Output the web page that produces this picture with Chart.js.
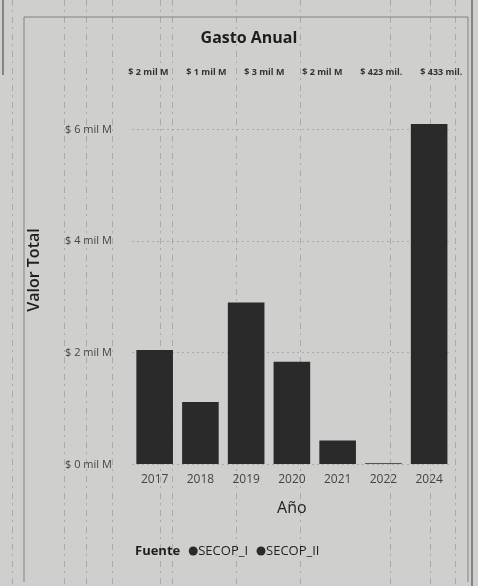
<!DOCTYPE html>
<html>
<head>
<meta charset="utf-8">
<script src="https://cdn.jsdelivr.net/npm/chart.js@4.4.0/dist/chart.umd.min.js"></script>
<style>
  html, body { margin: 0; padding: 0; background: #cfd0cd; }
  #wrap { width: 478px; height: 586px; position: relative; }
</style>
</head>
<body>
<div id="wrap"><canvas id="myChart" width="478" height="586"></canvas></div>
<script>
// values in "mil M" (thousands of millions)
const years = ['2017', '2018', '2019', '2020', '2021', '2022', '2024'];
const secopI = [0, 0, 0, 0, 0, 0, 0];
const secopII = [2.05, 1.12, 2.9, 1.84, 0.43, 0.02, 6.1];
const yTicks = [0, 2, 4, 6];
const topLabels = ['$ 2 mil M', '$ 1 mil M', '$ 3 mil M', '$ 2 mil M', '$ 423 mil.', '$ 433 mil.'];

const ink = '#2a2a2a';
const paper = '#cfd0cd';

// photocopy look: paper, frame and streaks
const paperPlugin = {
  id: 'paper',
  beforeDraw(chart) {
    const c = chart.ctx;
    const w = chart.width, h = chart.height;
    c.save();
    c.fillStyle = paper;
    c.fillRect(0, 0, w, h);
    c.strokeStyle = 'rgba(70,70,70,0.55)';
    c.lineWidth = 1;
    c.beginPath();
    c.moveTo(24, h - 4); c.lineTo(24, 17); c.lineTo(w - 10, 17); c.lineTo(w - 10, h - 4);
    c.stroke();
    c.strokeStyle = 'rgba(20,20,20,0.8)';
    c.beginPath();
    c.moveTo(3, 0); c.lineTo(3, 75);
    c.moveTo(w - 6, 0); c.lineTo(w - 6, h);
    c.stroke();
    c.strokeStyle = 'rgba(60,60,60,0.25)';
    c.setLineDash([6, 4, 2, 5]);
    [12, 64, 86, 112, 160, 172, 236, 300, 390, 430, 455].forEach(function (x) {
      c.beginPath();
      c.moveTo(x + 0.5, 0);
      c.lineTo(x + 0.5, h);
      c.stroke();
    });
    c.restore();
  }
};

const labelsPlugin = {
  id: 'extras',
  afterDraw(chart) {
    const c = chart.ctx;
    const meta = chart.getDatasetMeta(1);
    c.save();
    c.textBaseline = 'middle';
    // title
    c.fillStyle = '#1e1e1e';
    c.font = 'bold 16px "Open Sans"';
    c.textAlign = 'center';
    c.fillText('Gasto Anual', 249, 38);
    // y axis title
    c.save();
    c.translate(34, 270);
    c.rotate(-Math.PI / 2);
    c.font = '600 16px "Open Sans"';
    c.fillText('Valor Total', 0, 0);
    c.restore();
    // total labels, flowing left to right across the bars
    c.font = 'bold 9px "Open Sans"';
    c.fillStyle = '#333';
    c.textAlign = 'left';
    const first = meta.data[0];
    const last = meta.data[meta.data.length - 1];
    const start = first.x - first.width / 2 - 8;
    const end = last.x + last.width / 2 + 15;
    const widths = topLabels.map(t => c.measureText(t).width);
    const total = widths.reduce((a, b) => a + b, 0);
    const gap = (end - start - total) / (topLabels.length - 1);
    let px = start;
    topLabels.forEach(function (t, i) {
      c.fillText(t, px, 72);
      px += widths[i] + gap;
    });
    // legend
    const ly = 551;
    c.font = 'bold 13px "Open Sans"';
    c.fillStyle = '#1e1e1e';
    c.fillText('Fuente', 135, ly);
    let lx = 135 + c.measureText('Fuente').width + 9;
    c.font = '13px "Open Sans"';
    chart.data.datasets.forEach(function (ds) {
      c.fillStyle = ds.backgroundColor;
      c.beginPath();
      c.arc(lx + 4, ly, 4.5, 0, Math.PI * 2);
      c.fill();
      c.fillStyle = '#1e1e1e';
      c.fillText(ds.label, lx + 9, ly);
      lx += 9 + c.measureText(ds.label).width + 9;
    });
    c.restore();
  }
};

const data = {
  labels: years,
  datasets: [{
    label: 'SECOP_I',
    data: secopI,
    backgroundColor: ink,
    categoryPercentage: 0.8,
    barPercentage: 1.0
  }, {
    label: 'SECOP_II',
    data: secopII,
    backgroundColor: ink,
    categoryPercentage: 0.8,
    barPercentage: 1.0
  }]
};

const config = {
  type: 'bar',
  data: data,
  options: {
    responsive: false,
    animation: false,
    layout: { padding: { top: 110, left: 45, right: 26, bottom: 64 } },
    plugins: {
      legend: { display: false },
      title: { display: false },
      tooltip: { enabled: false }
    },
    scales: {
      x: {
        stacked: true,
        grid: { display: false },
        border: { display: false },
        ticks: { color: '#444', font: { family: 'Open Sans', size: 12 }, padding: 0 },
        title: {
          display: true, text: 'Año', color: '#222',
          font: { family: 'Open Sans', size: 16 }, padding: { top: 12 }
        }
      },
      y: {
        stacked: true,
        min: 0,
        max: 6.35,
        afterBuildTicks(scale) { scale.ticks = yTicks.map(v => ({ value: v })); },
        grid: { color: 'rgba(90,90,90,0.3)', lineWidth: 1, drawTicks: false },
        border: { display: false, dash: [2, 3] },
        ticks: {
          color: '#444', padding: 20,
          font: { family: 'Open Sans', size: 11 },
          callback: v => '$ ' + v + ' mil M'
        }
      }
    }
  },
  plugins: [paperPlugin, labelsPlugin]
};

const myChart = new Chart(document.getElementById('myChart'), config);
</script>
</body>
</html>
